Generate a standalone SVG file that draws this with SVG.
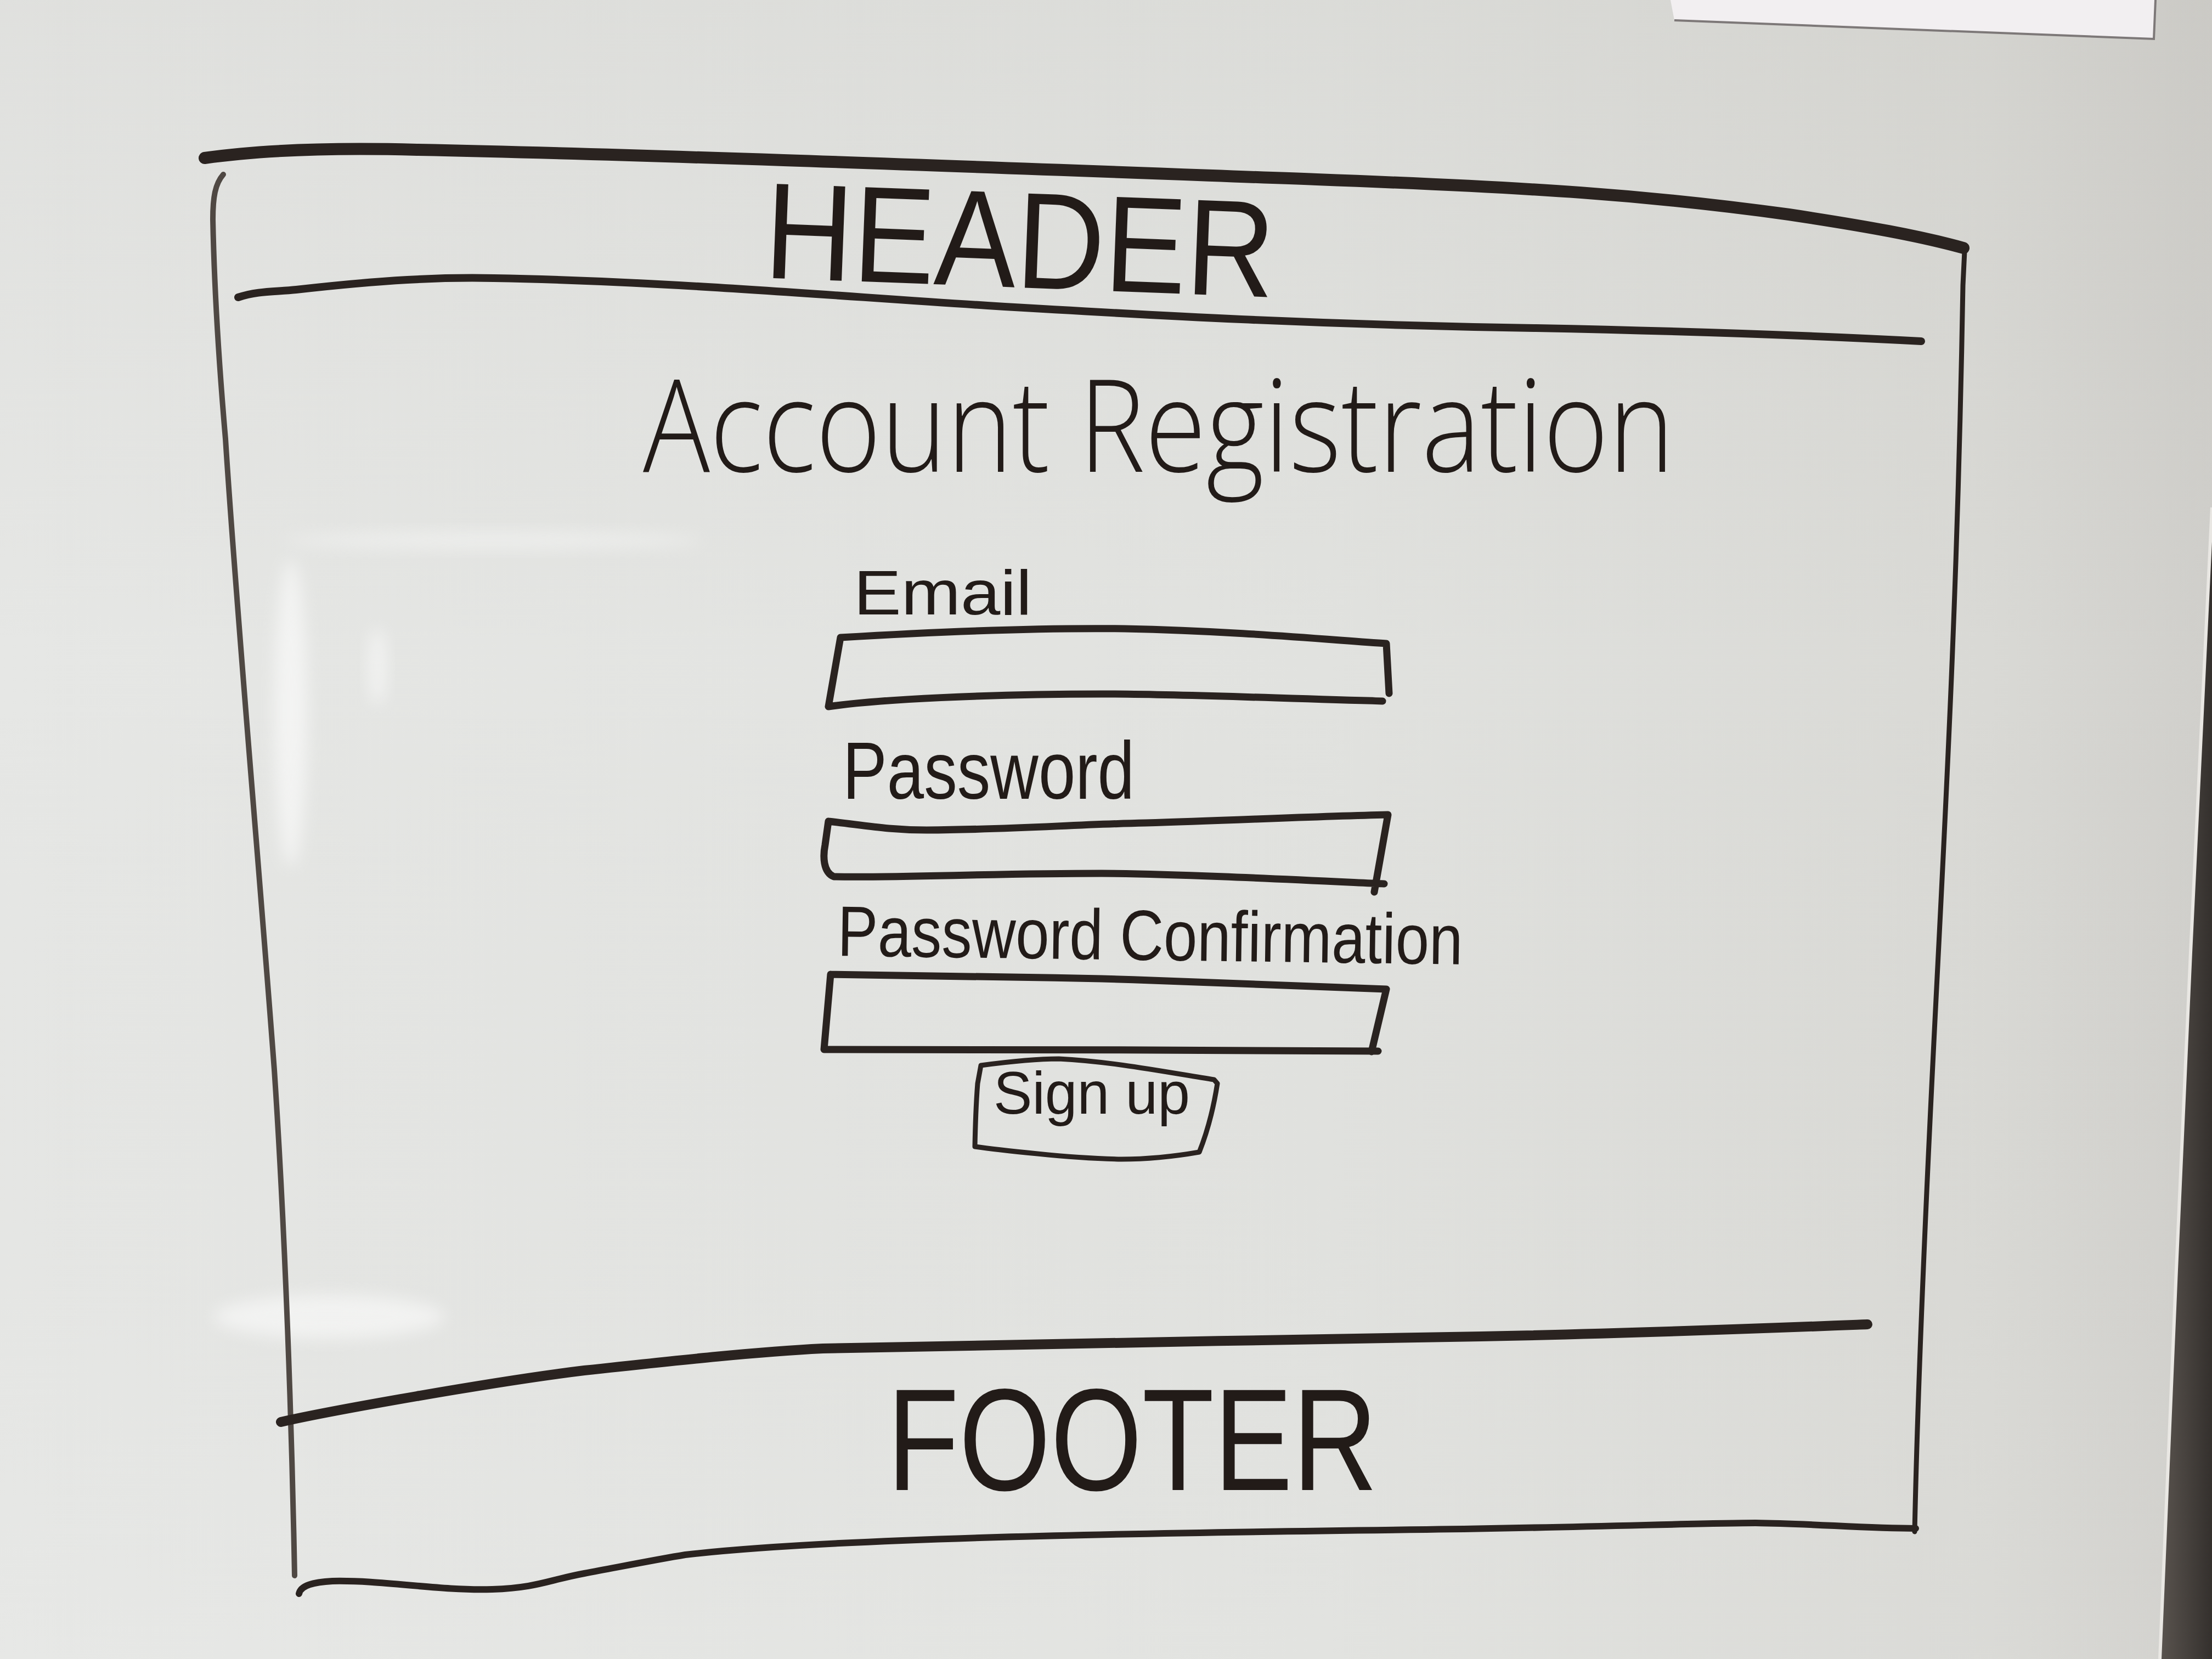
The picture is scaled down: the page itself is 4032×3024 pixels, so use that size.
<svg xmlns="http://www.w3.org/2000/svg" width="4032" height="3024" viewBox="0 0 4032 3024">
  <defs>
    <linearGradient id="boardH" x1="0" y1="0" x2="1" y2="0">
      <stop offset="0" stop-color="#e6e7e5"/>
      <stop offset="0.6" stop-color="#e1e2df"/>
      <stop offset="0.9" stop-color="#d9d9d5"/>
      <stop offset="1" stop-color="#d0cfcb"/>
    </linearGradient>
    <linearGradient id="boardV" x1="0" y1="0" x2="0" y2="1">
      <stop offset="0" stop-color="#6a6458" stop-opacity="0.05"/>
      <stop offset="0.4" stop-color="#6a6458" stop-opacity="0"/>
      <stop offset="1" stop-color="#ffffff" stop-opacity="0.04"/>
    </linearGradient>
    <linearGradient id="frameEdge" x1="0" y1="0" x2="1" y2="0">
      <stop offset="0" stop-color="#5a544f"/>
      <stop offset="1" stop-color="#34302d"/>
    </linearGradient>
    <filter id="glow" x="-50%" y="-50%" width="200%" height="200%">
      <feGaussianBlur stdDeviation="14"/>
    </filter>
    <style>
      .ink { fill: none; stroke: #2a2320; stroke-linecap: round; stroke-linejoin: round; }
      .faint { stroke: #4f4843; }
      .lbl { font-family: "Liberation Sans", "DejaVu Sans", sans-serif; fill: #221b18; }
      .thin { font-family: "Open Sans", "Liberation Sans", sans-serif; font-weight: 300; }
      .glare { fill: #ffffff; filter: url(#glow); }
    </style>
  </defs>

  <!-- whiteboard surface -->
  <g id="board">
    <rect x="0" y="0" width="4032" height="3024" fill="url(#boardH)"/>
    <rect x="0" y="0" width="4032" height="3024" fill="url(#boardV)"/>
    <!-- light reflections on the glossy surface -->
    <ellipse class="glare" cx="530" cy="1300" rx="30" ry="280" opacity="0.55"/>
    <ellipse class="glare" cx="688" cy="1215" rx="16" ry="70" opacity="0.5"/>
    <ellipse class="glare" cx="900" cy="985" rx="380" ry="16" opacity="0.35"/>
    <ellipse class="glare" cx="600" cy="2400" rx="210" ry="40" opacity="0.5"/>
    <!-- board frame at the right edge -->
    <polygon points="4032,925 3993,1736 3967,2314 3937,3024 4032,3024" fill="url(#frameEdge)"/>
    <polyline points="4032,925 3993,1736 3967,2314 3937,3024" fill="none" stroke="#e9e7e3" stroke-width="6"/>
    <!-- sheet of paper pinned at the top -->
    <polygon points="3045,0 3929,0 3926,70 3052,37" fill="#f2eff1"/>
    <polyline points="3052,37 3926,71 3929,0" fill="none" stroke="#7d7878" stroke-width="4"/>
  </g>

  <!-- page outline and section dividers -->
  <g id="frame">
    <path class="ink" stroke-width="22" d="M373,288 C 500,270 650,270 760,273 C 1200,282 1800,305 2400,327 C 2800,342 3000,355 3261,391 C 3400,412 3500,430 3579,452"/>
    <path class="ink faint" stroke-width="10" d="M407,318 C 392,335 388,360 388,400 C 390,500 398,650 411,800 C 430,1100 470,1550 500,1950 C 520,2250 532,2600 537,2872"/>
    <path class="ink" stroke-width="9" d="M3581,458 L3578,520 C 3568,1100 3545,1500 3525,1900 C 3505,2300 3494,2600 3490,2792"/>
    <path class="ink" stroke-width="14" d="M434,542 C 470,530 500,532 540,528 C 700,510 800,505 900,507 C 1200,512 1500,538 1800,557 C 2100,575 2400,592 2800,598 C 3100,604 3350,614 3502,622"/>
    <path class="ink" stroke-width="18" d="M512,2592 C 600,2572 900,2518 1065,2498 C 1250,2478 1380,2464 1500,2458 C 1900,2448 2300,2444 2700,2436 C 3000,2430 3250,2420 3404,2414"/>
    <path class="ink" stroke-width="12" d="M545,2905 C 548,2890 570,2884 606,2882 C 700,2880 800,2900 897,2897 C 980,2894 1000,2880 1065,2868 C 1150,2852 1200,2842 1249,2834 C 1500,2805 2000,2795 2600,2788 C 2900,2784 3100,2776 3200,2776 C 3300,2777 3400,2786 3492,2786"/>
  </g>

  <g id="header">
    <text class="lbl" x="1856" y="524" font-size="250" text-anchor="middle" textLength="930" lengthAdjust="spacingAndGlyphs" transform="rotate(2.2 1856 524)">HEADER</text>
  </g>

  <g id="title">
    <text class="lbl thin" x="2112" y="860" font-size="235" text-anchor="middle" textLength="1880" lengthAdjust="spacingAndGlyphs">Account Registration</text>
  </g>

  <g id="email-field">
    <text class="lbl" x="1556" y="1120" font-size="115" textLength="325" lengthAdjust="spacingAndGlyphs">Email</text>
    <path class="ink" stroke-width="13" d="M1532,1162 C 1700,1152 1900,1144 2050,1146 C 2250,1150 2420,1166 2527,1173 L2532,1264 M2520,1278 C 2300,1272 2150,1265 2008,1265 C 1800,1265 1600,1275 1510,1288 L1532,1162"/>
  </g>

  <g id="password-field">
    <text class="lbl" x="1536" y="1456" font-size="148" textLength="532" lengthAdjust="spacingAndGlyphs">Password</text>
    <path class="ink" stroke-width="13" d="M1510,1497 C 1580,1505 1620,1513 1689,1513 C 1850,1512 1950,1503 2088,1500 C 2250,1495 2400,1488 2530,1485 L2505,1626 M2523,1611 C 2350,1603 2150,1593 2008,1592 C 1800,1592 1650,1600 1520,1598 C 1500,1590 1500,1560 1504,1540 L1510,1497"/>
  </g>

  <g id="confirm-field">
    <text class="lbl" x="1526" y="1742" font-size="130" textLength="1140" lengthAdjust="spacingAndGlyphs" transform="rotate(0.8 1526 1742)">Password Confirmation</text>
    <path class="ink" stroke-width="13" d="M1514,1776 C 1700,1778 1850,1781 2008,1784 C 2200,1790 2400,1798 2527,1803 L2500,1917 M2512,1916 C 2200,1914 1800,1913 1502,1913 L1514,1776"/>
  </g>

  <g id="signup-button">
    <path class="ink" stroke-width="9" d="M1788,1942 C 1840,1935 1890,1930 1930,1930 C 2030,1935 2130,1955 2213,1968 L2219,1975 C 2212,2020 2200,2065 2186,2100 C 2140,2108 2090,2113 2044,2113 C 1990,2112 1940,2108 1891,2103 C 1850,2099 1810,2095 1777,2090 C 1778,2040 1780,2000 1782,1975 L1788,1942"/>
    <text class="lbl" x="1811" y="2030" font-size="110" textLength="358" lengthAdjust="spacingAndGlyphs">Sign up</text>
  </g>

  <g id="footer">
    <text class="lbl" x="2064" y="2716" font-size="265" text-anchor="middle" textLength="894" lengthAdjust="spacingAndGlyphs">FOOTER</text>
  </g>
</svg>
